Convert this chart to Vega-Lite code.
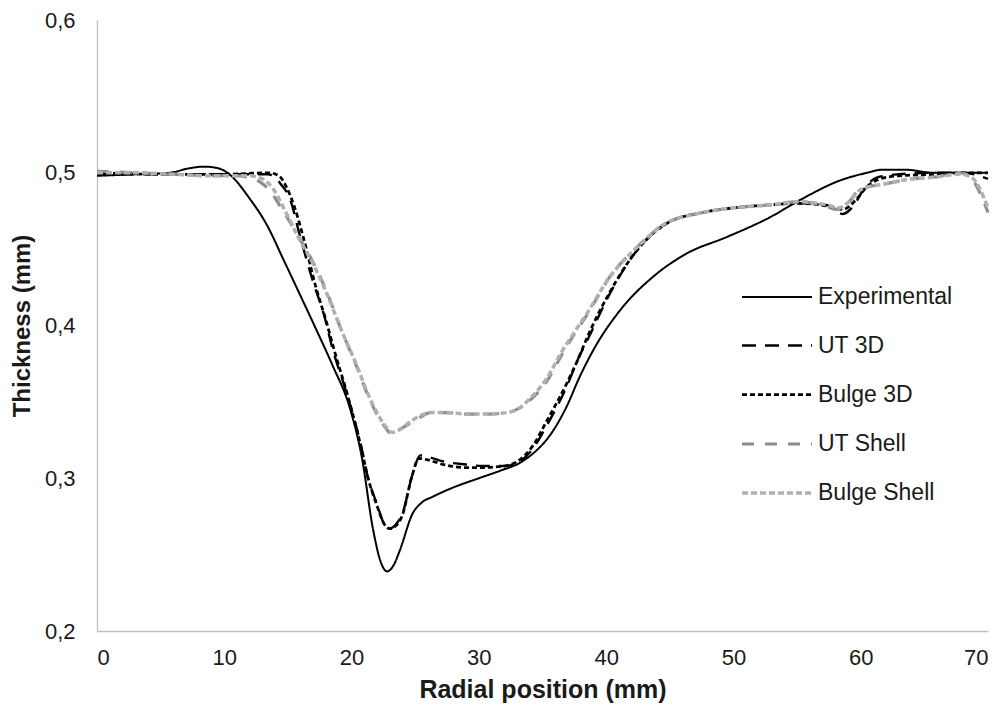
{
"$schema": "https://vega.github.io/schema/vega-lite/v6.json",
"width": 891, "height": 611,
"autosize": {"type": "none"},
"padding": {"left": 97, "top": 20, "right": 19, "bottom": 79},
"background": "white",
"config": {"view": {"stroke": null}, "font": "Liberation Sans"},
"data": {"values": [
{"s":"Experimental","x":0,"y":0.498},{"s":"Experimental","x":3,"y":0.499},{"s":"Experimental","x":5.7,"y":0.5},{"s":"Experimental","x":7.3,"y":0.503},{"s":"Experimental","x":8.4,"y":0.504},{"s":"Experimental","x":9.5,"y":0.503},{"s":"Experimental","x":10.4,"y":0.499},{"s":"Experimental","x":12,"y":0.483},{"s":"Experimental","x":13.4,"y":0.465},{"s":"Experimental","x":14.6,"y":0.444},{"s":"Experimental","x":15.9,"y":0.421},{"s":"Experimental","x":17.3,"y":0.396},{"s":"Experimental","x":18.5,"y":0.374},{"s":"Experimental","x":19.9,"y":0.345},{"s":"Experimental","x":20.8,"y":0.314},{"s":"Experimental","x":21.7,"y":0.266},{"s":"Experimental","x":22.3,"y":0.245},{"s":"Experimental","x":22.8,"y":0.239},{"s":"Experimental","x":23.3,"y":0.243},{"s":"Experimental","x":23.8,"y":0.253},{"s":"Experimental","x":24.8,"y":0.277},{"s":"Experimental","x":25.5,"y":0.284},{"s":"Experimental","x":26.4,"y":0.288},{"s":"Experimental","x":28,"y":0.294},{"s":"Experimental","x":30,"y":0.3},{"s":"Experimental","x":31.7,"y":0.305},{"s":"Experimental","x":33.2,"y":0.31},{"s":"Experimental","x":34.5,"y":0.318},{"s":"Experimental","x":35.3,"y":0.325},{"s":"Experimental","x":36.9,"y":0.347},{"s":"Experimental","x":37.9,"y":0.366},{"s":"Experimental","x":39,"y":0.384},{"s":"Experimental","x":41.1,"y":0.41},{"s":"Experimental","x":43.7,"y":0.432},{"s":"Experimental","x":46.3,"y":0.447},{"s":"Experimental","x":49.5,"y":0.458},{"s":"Experimental","x":52.9,"y":0.471},{"s":"Experimental","x":55.2,"y":0.482},{"s":"Experimental","x":58.4,"y":0.495},{"s":"Experimental","x":60.5,"y":0.5},{"s":"Experimental","x":61.7,"y":0.502},{"s":"Experimental","x":63.5,"y":0.502},{"s":"Experimental","x":65.7,"y":0.5},{"s":"Experimental","x":70,"y":0.5},
{"s":"UT 3D","x":0,"y":0.499},{"s":"UT 3D","x":5,"y":0.499},{"s":"UT 3D","x":10,"y":0.499},{"s":"UT 3D","x":12,"y":0.499},{"s":"UT 3D","x":13.4,"y":0.499},{"s":"UT 3D","x":14,"y":0.497},{"s":"UT 3D","x":14.4,"y":0.493},{"s":"UT 3D","x":15.2,"y":0.482},{"s":"UT 3D","x":15.9,"y":0.46},{"s":"UT 3D","x":17,"y":0.428},{"s":"UT 3D","x":17.8,"y":0.408},{"s":"UT 3D","x":18.5,"y":0.385},{"s":"UT 3D","x":19.6,"y":0.356},{"s":"UT 3D","x":20.7,"y":0.323},{"s":"UT 3D","x":21.3,"y":0.3},{"s":"UT 3D","x":22,"y":0.283},{"s":"UT 3D","x":22.5,"y":0.271},{"s":"UT 3D","x":23,"y":0.267},{"s":"UT 3D","x":23.5,"y":0.27},{"s":"UT 3D","x":24,"y":0.277},{"s":"UT 3D","x":24.8,"y":0.303},{"s":"UT 3D","x":25.4,"y":0.315},{"s":"UT 3D","x":26,"y":0.314},{"s":"UT 3D","x":27.2,"y":0.311},{"s":"UT 3D","x":29,"y":0.309},{"s":"UT 3D","x":30.3,"y":0.308},{"s":"UT 3D","x":32,"y":0.308},{"s":"UT 3D","x":33.2,"y":0.311},{"s":"UT 3D","x":34.3,"y":0.32},{"s":"UT 3D","x":35.3,"y":0.334},{"s":"UT 3D","x":36.9,"y":0.36},{"s":"UT 3D","x":37.9,"y":0.38},{"s":"UT 3D","x":38.5,"y":0.39},{"s":"UT 3D","x":40.3,"y":0.421},{"s":"UT 3D","x":42.4,"y":0.449},{"s":"UT 3D","x":44.8,"y":0.467},{"s":"UT 3D","x":47.6,"y":0.474},{"s":"UT 3D","x":50,"y":0.477},{"s":"UT 3D","x":52.9,"y":0.479},{"s":"UT 3D","x":55.2,"y":0.48},{"s":"UT 3D","x":57.3,"y":0.479},{"s":"UT 3D","x":58.6,"y":0.473},{"s":"UT 3D","x":59.4,"y":0.478},{"s":"UT 3D","x":60.3,"y":0.49},{"s":"UT 3D","x":61.3,"y":0.497},{"s":"UT 3D","x":63,"y":0.499},{"s":"UT 3D","x":66,"y":0.5},{"s":"UT 3D","x":68,"y":0.5},{"s":"UT 3D","x":70,"y":0.496},
{"s":"Bulge 3D","x":0,"y":0.5},{"s":"Bulge 3D","x":5,"y":0.499},{"s":"Bulge 3D","x":10,"y":0.499},{"s":"Bulge 3D","x":13.5,"y":0.5},{"s":"Bulge 3D","x":14.3,"y":0.498},{"s":"Bulge 3D","x":14.8,"y":0.492},{"s":"Bulge 3D","x":15.5,"y":0.478},{"s":"Bulge 3D","x":16.2,"y":0.458},{"s":"Bulge 3D","x":17.2,"y":0.425},{"s":"Bulge 3D","x":18,"y":0.403},{"s":"Bulge 3D","x":18.7,"y":0.382},{"s":"Bulge 3D","x":19.7,"y":0.354},{"s":"Bulge 3D","x":20.7,"y":0.322},{"s":"Bulge 3D","x":21.3,"y":0.3},{"s":"Bulge 3D","x":22,"y":0.282},{"s":"Bulge 3D","x":22.5,"y":0.271},{"s":"Bulge 3D","x":23,"y":0.267},{"s":"Bulge 3D","x":23.5,"y":0.269},{"s":"Bulge 3D","x":24,"y":0.276},{"s":"Bulge 3D","x":24.7,"y":0.3},{"s":"Bulge 3D","x":25.3,"y":0.313},{"s":"Bulge 3D","x":26,"y":0.312},{"s":"Bulge 3D","x":27.2,"y":0.309},{"s":"Bulge 3D","x":29,"y":0.307},{"s":"Bulge 3D","x":30.3,"y":0.307},{"s":"Bulge 3D","x":32,"y":0.308},{"s":"Bulge 3D","x":33.2,"y":0.312},{"s":"Bulge 3D","x":34.3,"y":0.322},{"s":"Bulge 3D","x":35.3,"y":0.337},{"s":"Bulge 3D","x":36.9,"y":0.362},{"s":"Bulge 3D","x":37.9,"y":0.38},{"s":"Bulge 3D","x":38.5,"y":0.392},{"s":"Bulge 3D","x":40.3,"y":0.422},{"s":"Bulge 3D","x":42.4,"y":0.449},{"s":"Bulge 3D","x":44.8,"y":0.467},{"s":"Bulge 3D","x":47.6,"y":0.474},{"s":"Bulge 3D","x":50,"y":0.477},{"s":"Bulge 3D","x":52.9,"y":0.479},{"s":"Bulge 3D","x":55.2,"y":0.48},{"s":"Bulge 3D","x":57.5,"y":0.478},{"s":"Bulge 3D","x":58.6,"y":0.476},{"s":"Bulge 3D","x":59.6,"y":0.482},{"s":"Bulge 3D","x":60.5,"y":0.491},{"s":"Bulge 3D","x":61.5,"y":0.496},{"s":"Bulge 3D","x":63,"y":0.498},{"s":"Bulge 3D","x":66,"y":0.499},{"s":"Bulge 3D","x":68,"y":0.5},{"s":"Bulge 3D","x":70,"y":0.5},
{"s":"UT Shell","x":0,"y":0.501},{"s":"UT Shell","x":3,"y":0.5},{"s":"UT Shell","x":6,"y":0.499},{"s":"UT Shell","x":9,"y":0.498},{"s":"UT Shell","x":11,"y":0.498},{"s":"UT Shell","x":11.8,"y":0.497},{"s":"UT Shell","x":12.8,"y":0.494},{"s":"UT Shell","x":13.6,"y":0.488},{"s":"UT Shell","x":14.4,"y":0.478},{"s":"UT Shell","x":15.7,"y":0.46},{"s":"UT Shell","x":17,"y":0.441},{"s":"UT Shell","x":18.1,"y":0.421},{"s":"UT Shell","x":19.1,"y":0.399},{"s":"UT Shell","x":20.4,"y":0.373},{"s":"UT Shell","x":21.4,"y":0.352},{"s":"UT Shell","x":22.5,"y":0.335},{"s":"UT Shell","x":23.2,"y":0.329},{"s":"UT Shell","x":23.8,"y":0.332},{"s":"UT Shell","x":24.6,"y":0.336},{"s":"UT Shell","x":25.4,"y":0.34},{"s":"UT Shell","x":26.2,"y":0.343},{"s":"UT Shell","x":27.5,"y":0.343},{"s":"UT Shell","x":29,"y":0.342},{"s":"UT Shell","x":30.5,"y":0.342},{"s":"UT Shell","x":32.2,"y":0.343},{"s":"UT Shell","x":33.2,"y":0.346},{"s":"UT Shell","x":34,"y":0.351},{"s":"UT Shell","x":35.3,"y":0.363},{"s":"UT Shell","x":36.6,"y":0.382},{"s":"UT Shell","x":37.7,"y":0.397},{"s":"UT Shell","x":38.5,"y":0.407},{"s":"UT Shell","x":40.3,"y":0.432},{"s":"UT Shell","x":42.4,"y":0.451},{"s":"UT Shell","x":44.5,"y":0.466},{"s":"UT Shell","x":47.6,"y":0.474},{"s":"UT Shell","x":50,"y":0.477},{"s":"UT Shell","x":52.9,"y":0.479},{"s":"UT Shell","x":55.2,"y":0.481},{"s":"UT Shell","x":57.3,"y":0.478},{"s":"UT Shell","x":58.1,"y":0.476},{"s":"UT Shell","x":59,"y":0.48},{"s":"UT Shell","x":59.9,"y":0.489},{"s":"UT Shell","x":62.1,"y":0.493},{"s":"UT Shell","x":64,"y":0.496},{"s":"UT Shell","x":65.7,"y":0.497},{"s":"UT Shell","x":67.8,"y":0.5},{"s":"UT Shell","x":68.5,"y":0.498},{"s":"UT Shell","x":70,"y":0.474},
{"s":"Bulge Shell","x":0,"y":0.5},{"s":"Bulge Shell","x":3,"y":0.5},{"s":"Bulge Shell","x":6,"y":0.499},{"s":"Bulge Shell","x":9,"y":0.498},{"s":"Bulge Shell","x":11,"y":0.498},{"s":"Bulge Shell","x":12,"y":0.498},{"s":"Bulge Shell","x":13,"y":0.496},{"s":"Bulge Shell","x":13.8,"y":0.49},{"s":"Bulge Shell","x":14.6,"y":0.478},{"s":"Bulge Shell","x":15.8,"y":0.458},{"s":"Bulge Shell","x":17,"y":0.44},{"s":"Bulge Shell","x":18.1,"y":0.42},{"s":"Bulge Shell","x":19.1,"y":0.399},{"s":"Bulge Shell","x":20.4,"y":0.374},{"s":"Bulge Shell","x":21.4,"y":0.353},{"s":"Bulge Shell","x":22.5,"y":0.336},{"s":"Bulge Shell","x":23.2,"y":0.33},{"s":"Bulge Shell","x":23.8,"y":0.332},{"s":"Bulge Shell","x":24.6,"y":0.337},{"s":"Bulge Shell","x":25.4,"y":0.341},{"s":"Bulge Shell","x":26.2,"y":0.343},{"s":"Bulge Shell","x":27.5,"y":0.343},{"s":"Bulge Shell","x":29,"y":0.342},{"s":"Bulge Shell","x":30.5,"y":0.342},{"s":"Bulge Shell","x":32.2,"y":0.343},{"s":"Bulge Shell","x":33.2,"y":0.346},{"s":"Bulge Shell","x":34,"y":0.352},{"s":"Bulge Shell","x":35.3,"y":0.365},{"s":"Bulge Shell","x":36.6,"y":0.384},{"s":"Bulge Shell","x":37.7,"y":0.398},{"s":"Bulge Shell","x":38.5,"y":0.408},{"s":"Bulge Shell","x":40.3,"y":0.432},{"s":"Bulge Shell","x":42.4,"y":0.451},{"s":"Bulge Shell","x":44.5,"y":0.466},{"s":"Bulge Shell","x":47.6,"y":0.474},{"s":"Bulge Shell","x":50,"y":0.477},{"s":"Bulge Shell","x":52.9,"y":0.479},{"s":"Bulge Shell","x":55.2,"y":0.481},{"s":"Bulge Shell","x":57.3,"y":0.479},{"s":"Bulge Shell","x":58.3,"y":0.477},{"s":"Bulge Shell","x":59.2,"y":0.482},{"s":"Bulge Shell","x":60,"y":0.489},{"s":"Bulge Shell","x":62.1,"y":0.493},{"s":"Bulge Shell","x":64,"y":0.496},{"s":"Bulge Shell","x":65.7,"y":0.497},{"s":"Bulge Shell","x":67.8,"y":0.499},{"s":"Bulge Shell","x":68.7,"y":0.497},{"s":"Bulge Shell","x":70,"y":0.477}
]},
"mark": {"type": "line", "interpolate": "monotone", "strokeCap": "butt"},
"encoding": {
  "x": {"field": "x", "type": "quantitative",
    "scale": {"domain": [0, 70], "nice": false, "zero": false},
    "axis": {"values": [0,10,20,30,40,50,60,70], "grid": false, "ticks": false, "domainColor": "#bfbfbf", "domainWidth": 1.3,
      "labelFont": "Liberation Sans", "labelFontSize": 22, "labelColor": "#1a1a1a", "labelPadding": 16,
      "title": "Radial position (mm)", "titleFont": "Liberation Sans", "titleFontSize": 25, "titleFontWeight": "bold", "titleColor": "#1a1a1a", "titlePadding": 9}},
  "y": {"field": "y", "type": "quantitative",
    "scale": {"domain": [0.2, 0.6], "nice": false, "zero": false},
    "axis": {"values": [0.2,0.3,0.4,0.5,0.6], "grid": false, "ticks": false, "domainColor": "#bfbfbf", "domainWidth": 1.3,
      "labelExpr": "replace(format(datum.value, '.1f'), '.', ',')",
      "labelFont": "Liberation Sans", "labelFontSize": 22, "labelColor": "#1a1a1a", "labelPadding": 22,
      "title": "Thickness (mm)", "titleFont": "Liberation Sans", "titleFontSize": 24, "titleFontWeight": "bold", "titleColor": "#1a1a1a", "titlePadding": 10}},
  "color": {"field": "s", "type": "nominal",
    "scale": {"domain": ["Experimental","UT 3D","Bulge 3D","UT Shell","Bulge Shell"], "range": ["#000000","#000000","#000000","#8c8c8c","#b0b0b0"]},
    "legend": {"orient": "none", "legendX": 643, "legendY": 241, "title": null, "symbolType": "stroke", "symbolSize": 4900,
      "labelFont": "Liberation Sans", "labelFontSize": 23, "labelColor": "#1a1a1a", "labelOffset": 4, "rowPadding": 0}},
  "strokeDash": {"field": "s", "type": "nominal",
    "scale": {"domain": ["Experimental","UT 3D","Bulge 3D","UT Shell","Bulge Shell"], "range": [[1,0],[14,9],[5,3],[12,11],[6,3]]}},
  "strokeWidth": {"field": "s", "type": "ordinal",
    "scale": {"domain": ["Experimental","UT 3D","Bulge 3D","UT Shell","Bulge Shell"], "range": [2,3.5,2,3,3]}}
}
}
